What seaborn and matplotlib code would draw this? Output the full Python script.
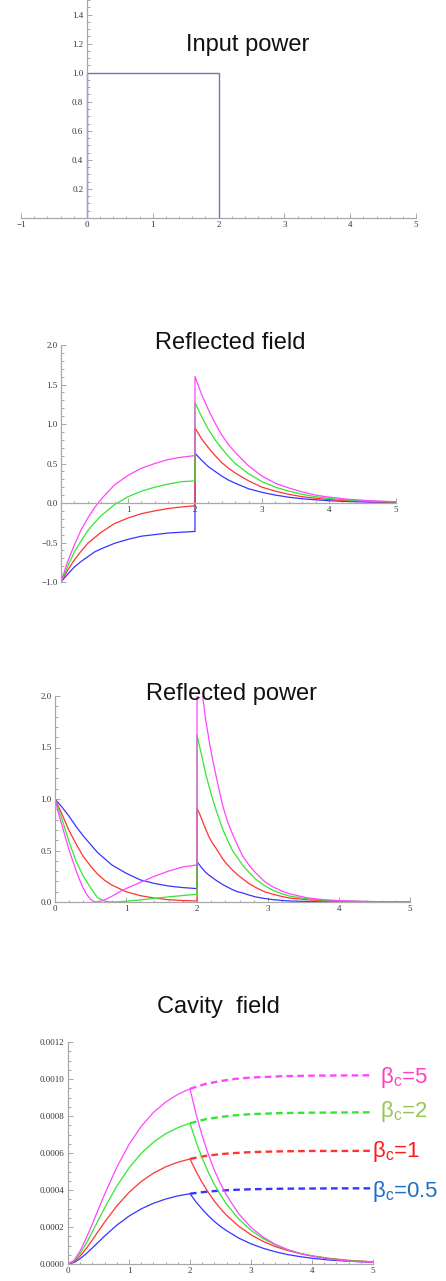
import matplotlib
matplotlib.use("Agg")
import matplotlib.pyplot as plt
import seaborn as sns
from matplotlib.ticker import MultipleLocator, FixedLocator

# ---------------- data ----------------
# Panel 1: input power (rectangular pulse)
input_t = [0, 0, 2, 2]
input_p = [0, 1.0, 1.0, 0]

# Panel 2: reflected field
rf_t_rise = [0, 0.1, 0.2, 0.3, 0.4, 0.5, 0.6, 0.8, 1.0, 1.2, 1.4, 1.6, 1.8, 2.0]
rf_t_decay = [2.0, 2.1, 2.2, 2.3, 2.4, 2.5, 2.6, 2.8, 3.0, 3.2, 3.4, 3.6, 3.8, 4.0, 4.3, 4.6, 5.0]
rf_blue_rise = [-1.0, -0.90, -0.81, -0.74, -0.68, -0.62, -0.58, -0.51, -0.46, -0.42, -0.40, -0.38, -0.37, -0.36]
rf_red_rise = [-1.0, -0.85, -0.72, -0.61, -0.51, -0.44, -0.37, -0.26, -0.19, -0.135, -0.10, -0.07, -0.05, -0.035]
rf_green_rise = [-1.0, -0.80, -0.62, -0.48, -0.35, -0.25, -0.16, -0.02, 0.08, 0.15, 0.20, 0.24, 0.27, 0.28]
rf_mag_rise = [-1.0, -0.74, -0.53, -0.34, -0.19, -0.06, 0.05, 0.23, 0.35, 0.44, 0.50, 0.55, 0.58, 0.60]
rf_blue_decay = [0.63, 0.54, 0.46, 0.40, 0.34, 0.29, 0.25, 0.18, 0.135, 0.10, 0.073, 0.054, 0.04, 0.029, 0.018, 0.011, 0.006]
rf_red_decay = [0.95, 0.81, 0.70, 0.60, 0.51, 0.44, 0.38, 0.28, 0.20, 0.15, 0.11, 0.08, 0.06, 0.044, 0.028, 0.017, 0.01]
rf_green_decay = [1.27, 1.09, 0.93, 0.80, 0.69, 0.59, 0.50, 0.37, 0.27, 0.20, 0.15, 0.11, 0.08, 0.058, 0.037, 0.023, 0.013]
rf_mag_decay = [1.60, 1.37, 1.18, 1.01, 0.86, 0.74, 0.64, 0.47, 0.34, 0.25, 0.19, 0.14, 0.10, 0.074, 0.046, 0.029, 0.016]

# Panel 3: reflected power
rp_t_rise = [0, 0.1, 0.2, 0.3, 0.4, 0.5, 0.6, 0.7, 0.8, 1.0, 1.2, 1.4, 1.6, 1.8, 2.0]
rp_blue_rise = [1.0, 0.92, 0.83, 0.73, 0.64, 0.56, 0.48, 0.42, 0.36, 0.28, 0.215, 0.18, 0.155, 0.14, 0.13]
rp_red_rise = [1.0, 0.85, 0.69, 0.56, 0.44, 0.35, 0.27, 0.21, 0.165, 0.10, 0.062, 0.038, 0.022, 0.014, 0.01]
rp_tg_rise = [0, 0.1, 0.2, 0.3, 0.4, 0.5, 0.6, 0.7, 0.8, 0.9, 1.0, 1.2, 1.4, 1.6, 1.8, 2.0]
rp_green_rise = [1.0, 0.80, 0.58, 0.39, 0.25, 0.14, 0.04, 0.008, 0.0, 0.003, 0.008, 0.02, 0.035, 0.05, 0.063, 0.075]
rp_tm_rise = [0, 0.05, 0.1, 0.15, 0.2, 0.25, 0.3, 0.35, 0.4, 0.45, 0.5, 0.55, 0.6,
              0.7, 0.8, 0.9, 1.0, 1.2, 1.4, 1.6, 1.8, 2.0]
rp_mag_rise = [1.0, 0.86, 0.74, 0.62, 0.50, 0.40, 0.30, 0.21, 0.13, 0.07, 0.025, 0.004, 0.0,
               0.02, 0.055, 0.095, 0.13, 0.19, 0.25, 0.30, 0.34, 0.36]
rp_t_decay = [2.0, 2.04, 2.08, 2.12, 2.17, 2.22, 2.27, 2.36, 2.43, 2.5, 2.57, 2.64, 2.73,
              2.83, 2.95, 3.07, 3.2, 3.3, 3.54, 3.77, 4.0, 4.5, 5.0]
rp_blue_decay = [0.39, 0.355, 0.32, 0.29, 0.26, 0.235, 0.21, 0.17, 0.145, 0.12, 0.10, 0.088, 0.068,
                 0.049, 0.034, 0.023, 0.015, 0.01, 0.005, 0.002, 0.001, 0.0, 0.0]
rp_red_decay = [0.91, 0.85, 0.78, 0.71, 0.63, 0.57, 0.52, 0.42, 0.36, 0.31, 0.265, 0.227, 0.18,
                0.14, 0.10, 0.075, 0.053, 0.039, 0.023, 0.013, 0.006, 0.002, 0.0]
rp_green_decay = [1.62, 1.50, 1.38, 1.25, 1.12, 1.00, 0.89, 0.71, 0.60, 0.50, 0.43, 0.36, 0.29,
                  0.22, 0.16, 0.113, 0.08, 0.058, 0.032, 0.018, 0.01, 0.003, 0.001]
rp_mag_decay = [2.56, 2.25, 2.0, 1.78, 1.57, 1.38, 1.22, 0.94, 0.78, 0.66, 0.55, 0.45, 0.36,
                0.28, 0.20, 0.146, 0.105, 0.08, 0.042, 0.023, 0.013, 0.004, 0.001]

# Panel 4: cavity field
cf_t_rise = [0, 0.1, 0.2, 0.3, 0.4, 0.5, 0.6, 0.8, 1.0, 1.2, 1.4, 1.6, 1.8, 2.0]
cf_mag_rise = [0, 0.20e-4, 0.71e-4, 1.40e-4, 2.17e-4, 2.98e-4, 3.77e-4, 5.23e-4, 6.46e-4, 7.44e-4, 8.19e-4, 8.75e-4, 9.17e-4, 9.47e-4]
cf_green_rise = [0, 0.16e-4, 0.57e-4, 1.12e-4, 1.75e-4, 2.39e-4, 3.03e-4, 4.21e-4, 5.19e-4, 5.98e-4, 6.58e-4, 7.04e-4, 7.37e-4, 7.61e-4]
cf_red_rise = [0, 0.12e-4, 0.43e-4, 0.84e-4, 1.30e-4, 1.79e-4, 2.26e-4, 3.14e-4, 3.87e-4, 4.46e-4, 4.91e-4, 5.25e-4, 5.50e-4, 5.68e-4]
cf_blue_rise = [0, 0.08e-4, 0.29e-4, 0.56e-4, 0.87e-4, 1.19e-4, 1.51e-4, 2.10e-4, 2.59e-4, 2.98e-4, 3.28e-4, 3.51e-4, 3.68e-4, 3.80e-4]
cf_t_dash = [2.0, 2.25, 2.5, 2.75, 3.0, 3.5, 4.0, 4.5, 5.0]
cf_mag_dash = [9.47e-4, 9.73e-4, 9.89e-4, 10.01e-4, 10.08e-4, 10.15e-4, 10.18e-4, 10.19e-4, 10.20e-4]
cf_green_dash = [7.61e-4, 7.82e-4, 7.95e-4, 8.04e-4, 8.10e-4, 8.16e-4, 8.18e-4, 8.19e-4, 8.20e-4]
cf_red_dash = [5.68e-4, 5.84e-4, 5.94e-4, 6.00e-4, 6.05e-4, 6.09e-4, 6.11e-4, 6.11e-4, 6.12e-4]
cf_blue_dash = [3.80e-4, 3.90e-4, 3.97e-4, 4.01e-4, 4.04e-4, 4.07e-4, 4.08e-4, 4.09e-4, 4.09e-4]
cf_t_decay = [2.0, 2.1, 2.2, 2.3, 2.4, 2.5, 2.6, 2.8, 3.0, 3.2, 3.4, 3.6, 3.8, 4.0, 4.3, 4.6, 5.0]
cf_mag_decay = [9.47e-4, 8.10e-4, 6.93e-4, 5.93e-4, 5.07e-4, 4.34e-4, 3.71e-4, 2.71e-4, 1.98e-4, 1.45e-4, 1.06e-4, 0.78e-4, 0.57e-4, 0.42e-4, 0.26e-4, 0.16e-4, 0.09e-4]
cf_green_decay = [7.61e-4, 6.60e-4, 5.72e-4, 4.96e-4, 4.30e-4, 3.73e-4, 3.23e-4, 2.43e-4, 1.82e-4, 1.37e-4, 1.03e-4, 0.77e-4, 0.58e-4, 0.44e-4, 0.28e-4, 0.18e-4, 0.11e-4]
cf_red_decay = [5.68e-4, 5.00e-4, 4.40e-4, 3.87e-4, 3.40e-4, 2.99e-4, 2.63e-4, 2.04e-4, 1.58e-4, 1.22e-4, 0.94e-4, 0.73e-4, 0.57e-4, 0.44e-4, 0.30e-4, 0.20e-4, 0.12e-4]
cf_blue_decay = [3.80e-4, 3.35e-4, 2.96e-4, 2.61e-4, 2.30e-4, 2.03e-4, 1.80e-4, 1.40e-4, 1.09e-4, 0.85e-4, 0.66e-4, 0.51e-4, 0.40e-4, 0.31e-4, 0.21e-4, 0.15e-4, 0.09e-4]

beta_labels = ["5", "2", "1", "0.5"]
beta_label_x = [5.11, 5.11, 4.99, 4.99]
beta_label_y = [0.000978, 0.000795, 0.000578, 0.000362]

titles = ["Input power", "Reflected field", "Reflected power", "Cavity  field"]

# ---------------- style ----------------
sns.set_theme(style="white")
plt.rcParams["font.family"] = ["Liberation Sans", "DejaVu Sans"]
plt.rcParams["mathtext.fontset"] = "custom"
plt.rcParams["mathtext.rm"] = "Liberation Sans"
plt.rcParams["mathtext.it"] = "Liberation Sans:italic"
plt.rcParams["mathtext.bf"] = "Liberation Sans:bold"

C_BLUE = "#3535ff"
C_RED = "#ff3333"
C_GREEN = "#33e633"
C_MAG = "#ff45ff"
C_INPUT = "#7272c8"
LABEL_COLORS = ["#ff40c0", "#95c850", "#ff1a1a", "#1e6fc8"]
AXIS_C = "#a8a8a8"
TICKLABEL_C = "#383838"
SERIF = ["Liberation Serif", "DejaVu Serif"]

W, H = 446, 1281
fig = plt.figure(figsize=(W / 100, H / 100), dpi=100)


def rect(l, r, t, b):
    return [l / W, 1 - b / H, (r - l) / W, (b - t) / H]


def style_axes(ax, xlim, ylim, xticks, xlabels, yticks, ylabels, xminor, yminor):
    ax.set_xlim(*xlim)
    ax.set_ylim(*ylim)
    ax.patch.set_alpha(0)
    for s in ["top", "right"]:
        ax.spines[s].set_visible(False)
    ax.spines["left"].set_position(("data", 0))
    ax.spines["bottom"].set_position(("data", 0))
    for s in ["left", "bottom"]:
        ax.spines[s].set_color(AXIS_C)
        ax.spines[s].set_linewidth(0.9)
    ax.xaxis.set_major_locator(FixedLocator(xticks))
    ax.yaxis.set_major_locator(FixedLocator(yticks))
    ax.set_xticklabels(xlabels, fontfamily=SERIF, fontsize=6.5, color=TICKLABEL_C)
    ax.set_yticklabels(ylabels, fontfamily=SERIF, fontsize=6.5, color=TICKLABEL_C)
    ax.xaxis.set_minor_locator(MultipleLocator(xminor))
    ax.yaxis.set_minor_locator(MultipleLocator(yminor))
    ax.tick_params(which="both", direction="in", color=AXIS_C, width=0.7,
                   bottom=True, left=True, top=False, right=False)
    ax.tick_params(which="major", length=3.5, pad=2.5)
    ax.tick_params(which="minor", length=1.8)
    ax.grid(False)
    ax.set_xlabel("")
    ax.set_ylabel("")


def line(ax, x, y, color, lw=0.9, **kw):
    sns.lineplot(x=x, y=y, ax=ax, color=color, lw=lw, estimator=None,
                 sort=False, errorbar=None, legend=False, **kw)


# ---------- Panel 1 ----------
ax1 = fig.add_axes(rect(21, 416, 0, 218))
line(ax1, input_t, input_p, C_INPUT, lw=1.0)
style_axes(ax1, (-1, 5), (0, 1.5), [-1, 0, 1, 2, 3, 4, 5],
           ["\u22121", "0", "1", "2", "3", "4", "5"],
           [0.2, 0.4, 0.6, 0.8, 1.0, 1.2, 1.4],
           ["0.2", "0.4", "0.6", "0.8", "1.0", "1.2", "1.4"], 0.2, 0.05)

# ---------- Panel 2 ----------
ax2 = fig.add_axes(rect(61, 396, 345, 582))
rf_series = [(rf_blue_rise, rf_blue_decay, C_BLUE), (rf_red_rise, rf_red_decay, C_RED),
             (rf_green_rise, rf_green_decay, C_GREEN), (rf_mag_rise, rf_mag_decay, C_MAG)]
for rise, decay, c in rf_series:
    line(ax2, rf_t_rise + rf_t_decay, rise + decay, c)
style_axes(ax2, (0, 5), (-1, 2), [1, 2, 3, 4, 5], ["1", "2", "3", "4", "5"],
           [-1.0, -0.5, 0.0, 0.5, 1.0, 1.5, 2.0],
           ["\u22121.0", "\u22120.5", "0.0", "0.5", "1.0", "1.5", "2.0"], 0.2, 0.1)

# ---------- Panel 3 ----------
ax3 = fig.add_axes(rect(55, 410, 696, 902))
rp_series = [(rp_t_rise, rp_blue_rise, rp_blue_decay, C_BLUE),
             (rp_t_rise, rp_red_rise, rp_red_decay, C_RED),
             (rp_tg_rise, rp_green_rise, rp_green_decay, C_GREEN),
             (rp_tm_rise, rp_mag_rise, rp_mag_decay, C_MAG)]
for tr, rise, decay, c in rp_series:
    line(ax3, tr + rp_t_decay, rise + decay, c)
style_axes(ax3, (0, 5), (0, 2.0), [0, 1, 2, 3, 4, 5], ["0", "1", "2", "3", "4", "5"],
           [0.0, 0.5, 1.0, 1.5, 2.0], ["0.0", "0.5", "1.0", "1.5", "2.0"], 0.2, 0.1)

# ---------- Panel 4 ----------
ax4 = fig.add_axes(rect(68, 373, 1042, 1264))
cf_series = [(cf_blue_rise, cf_blue_dash, cf_blue_decay, C_BLUE),
             (cf_red_rise, cf_red_dash, cf_red_decay, C_RED),
             (cf_green_rise, cf_green_dash, cf_green_decay, C_GREEN),
             (cf_mag_rise, cf_mag_dash, cf_mag_decay, C_MAG)]
for rise, dash, decay, c in cf_series:
    line(ax4, cf_t_rise + cf_t_decay, rise + decay, c)
    line(ax4, cf_t_dash, dash, c, lw=1.7, linestyle=(0, (2.8, 1.8)))
style_axes(ax4, (0, 5), (0, 0.0012), [0, 1, 2, 3, 4, 5], ["0", "1", "2", "3", "4", "5"],
           [0, 0.0002, 0.0004, 0.0006, 0.0008, 0.0010, 0.0012],
           ["0.0000", "0.0002", "0.0004", "0.0006", "0.0008", "0.0010", "0.0012"], 0.2, 0.00005)
for lab, lx, ly, lc in zip(beta_labels, beta_label_x, beta_label_y, LABEL_COLORS):
    ax4.text(lx, ly, r"$\mathrm{\beta_c}$=" + lab, color=lc, fontsize=16,
             ha="left", va="baseline", clip_on=False)

# ---------- titles ----------
title_pos = [(248, 45), (230, 343), (231, 694), (218, 1007)]
for txt, (px, py) in zip(titles, title_pos):
    fig.text(px / W, 1 - py / H, txt, ha="center", va="center", fontsize=17,
             color="#111111", zorder=10)

fig.savefig("out.png", dpi=100)
